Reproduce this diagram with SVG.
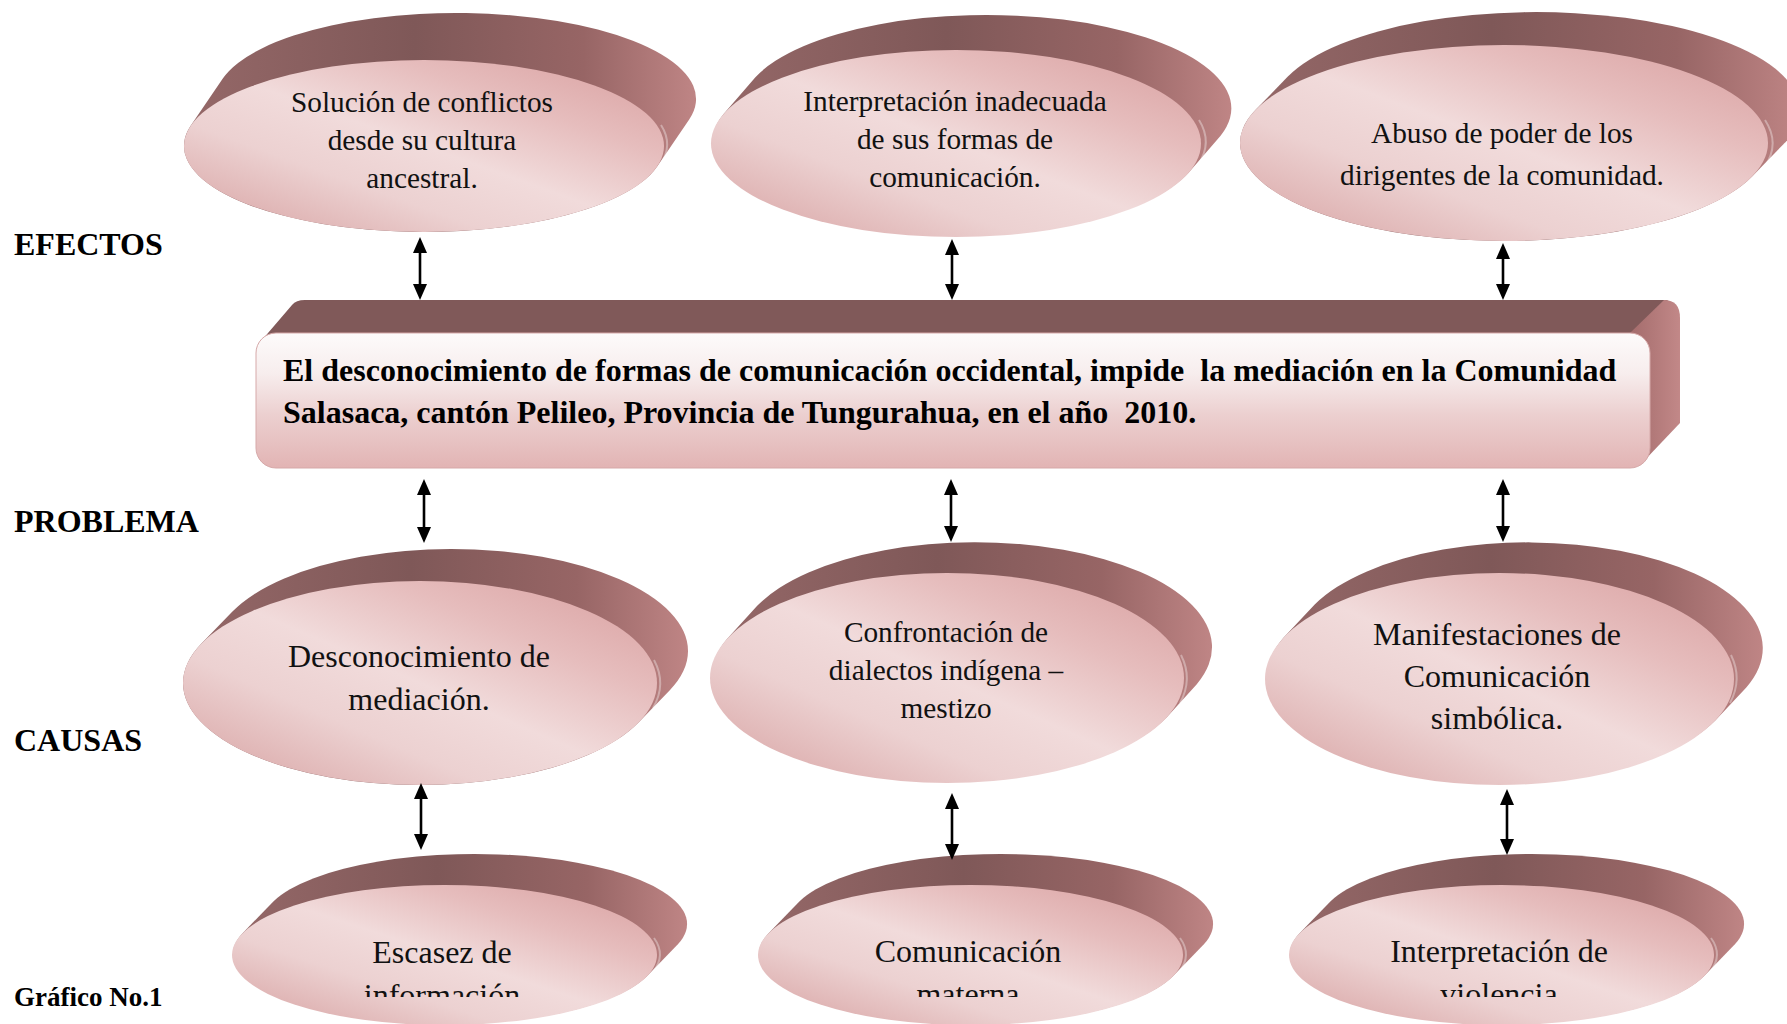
<svg xmlns="http://www.w3.org/2000/svg" width="1787" height="1024" viewBox="0 0 1787 1024">
<defs>
  <linearGradient id="sideG" x1="0" y1="0" x2="1" y2="0">
    <stop offset="0" stop-color="#956868"/>
    <stop offset="0.45" stop-color="#7f5858"/>
    <stop offset="0.78" stop-color="#976565"/>
    <stop offset="1" stop-color="#bf8585"/>
  </linearGradient>
  <linearGradient id="faceG" x1="1" y1="0" x2="0" y2="1">
    <stop offset="0" stop-color="#d89e9e"/>
    <stop offset="0.28" stop-color="#e6bdbd"/>
    <stop offset="0.5" stop-color="#f1dbdb"/>
    <stop offset="0.68" stop-color="#ecd1d1"/>
    <stop offset="1" stop-color="#d69f9f"/>
  </linearGradient>
  <linearGradient id="boxFaceG" x1="0" y1="0" x2="0" y2="1">
    <stop offset="0" stop-color="#fdfbfb"/>
    <stop offset="0.3" stop-color="#f7eded"/>
    <stop offset="0.6" stop-color="#ecd0d0"/>
    <stop offset="1" stop-color="#e2b4b4"/>
  </linearGradient>
  <linearGradient id="boxSideG" x1="0" y1="0" x2="1" y2="0">
    <stop offset="0" stop-color="#a46c6c"/>
    <stop offset="1" stop-color="#c28888"/>
  </linearGradient>
  <marker id="ah" markerUnits="userSpaceOnUse" markerWidth="16" markerHeight="14" viewBox="0 0 16 14" refX="6" refY="7" orient="auto-start-reverse">
    <path d="M0,0 L16,7 L0,14 Z" fill="#000"/>
  </marker>
  <clipPath id="clipBottom">
    <rect x="0" y="0" width="1787" height="997"/>
  </clipPath>
</defs>
<style>
  .side { fill: url(#sideG); }
  .face { fill: url(#faceG); }
  .hl { fill: none; stroke: #ffffff; stroke-opacity: 0.35; stroke-width: 2; }
  .t { font-family: "Liberation Serif", "Times New Roman", serif; fill: #111; text-anchor: middle; }
  .t29 { font-size: 29.3px; }
  .t32 { font-size: 32px; }
  .lbl { font-family: "Liberation Serif", "Times New Roman", serif; font-weight: bold; font-size: 32px; fill: #000; }
  .boxt { font-family: "Liberation Serif", "Times New Roman", serif; font-weight: bold; font-size: 32px; fill: #000; }
  .conn line { stroke: #000; stroke-width: 2.6; marker-start: url(#ah); marker-end: url(#ah); }
</style>
<rect width="1787" height="1024" fill="#ffffff"/>

<!-- Effects row -->
<g id="efecto-1">
  <path class="side" d="M190.8,125.6 L222.8,78.6 A240,86 0 0 1 689.2,119.4 L657.2,166.4 A240,86 0 0 1 190.8,125.6 Z"/>
  <ellipse class="face" cx="424" cy="146" rx="240" ry="86"/>
  <path class="hl" d="M661,125 A240,86 0 0 1 660,165"/>
  <text class="t t29" x="422" y="112">Solución de conflictos</text>
  <text class="t t29" x="422" y="150">desde su cultura</text>
  <text class="t t29" x="422" y="188">ancestral.</text>
</g>
<g id="efecto-2">
  <path class="side" d="M723.4,114.2 L755.4,77.2 A245,93.5 0 0 1 1220.6,135.8 L1188.6,172.8 A245,93.5 0 0 1 723.4,114.2 Z"/>
  <ellipse class="face" cx="956" cy="143.5" rx="245" ry="93.5"/>
  <path class="hl" d="M1199,120 A245,93.5 0 0 1 1198,165"/>
  <text class="t t29" x="955" y="111">Interpretación inadecuada</text>
  <text class="t t29" x="955" y="149">de sus formas de</text>
  <text class="t t29" x="955" y="187">comunicación.</text>
</g>
<g id="efecto-3">
  <path class="side" d="M1255.6,109.8 L1287.6,76.8 A264,98 0 0 1 1784.4,143.2 L1752.4,176.2 A264,98 0 0 1 1255.6,109.8 Z"/>
  <ellipse class="face" cx="1504" cy="143" rx="264" ry="98"/>
  <path class="hl" d="M1765,120 A264,98 0 0 1 1764,168"/>
  <text class="t t29" x="1502" y="143">Abuso de poder de los</text>
  <text class="t t29" x="1502" y="185">dirigentes de la comunidad.</text>
</g>

<!-- Problem box -->
<g id="problema">
  <path fill="#805959" d="M262,340 L292,305 Q296,300 305,300 L1668,300 L1636,333 L276,333 Z"/>
  <path fill="url(#boxSideG)" d="M1630,333 L1664,300 Q1680,300 1680,318 L1680,423 L1642,463 L1630,463 Z"/>
  <rect x="256" y="333" width="1394" height="135" rx="20" ry="20" fill="url(#boxFaceG)" stroke="#d6a9a9" stroke-width="1"/>
  <text class="boxt" x="283" y="381" xml:space="preserve">El desconocimiento de formas de comunicación occidental, impide  la mediación en la Comunidad</text>
  <text class="boxt" x="283" y="423" xml:space="preserve">Salasaca, cantón Pelileo, Provincia de Tungurahua, en el año  2010.</text>
</g>

<!-- Causes row -->
<g id="causa-1">
  <path class="side" d="M201.2,643.8 L232.2,611.8 A237,102 0 0 1 669.8,690.2 L638.8,722.2 A237,102 0 0 1 201.2,643.8 Z"/>
  <ellipse class="face" cx="420" cy="683" rx="237" ry="102"/>
  <path class="hl" d="M654,660 A237,102 0 0 1 653,708"/>
  <text class="t t32" x="419" y="667">Desconocimiento de</text>
  <text class="t t32" x="419" y="710">mediación.</text>
</g>
<g id="causa-2">
  <path class="side" d="M727.2,638.8 L757.2,605.8 A237,105 0 0 1 1196.8,684.2 L1166.8,717.2 A237,105 0 0 1 727.2,638.8 Z"/>
  <ellipse class="face" cx="947" cy="678" rx="237" ry="105"/>
  <path class="hl" d="M1181,655 A237,105 0 0 1 1180,703"/>
  <text class="t t29" x="946" y="642">Confrontación de</text>
  <text class="t t29" x="946" y="680">dialectos indígena –</text>
  <text class="t t29" x="946" y="718">mestizo</text>
</g>
<g id="causa-3">
  <path class="side" d="M1283.7,637.6 L1314.7,604.6 A234.5,106 0 0 1 1746.3,687.4 L1715.3,720.4 A234.5,106 0 0 1 1283.7,637.6 Z"/>
  <ellipse class="face" cx="1499.5" cy="679" rx="234.5" ry="106"/>
  <path class="hl" d="M1731,655 A234.5,106 0 0 1 1730,703"/>
  <text class="t t32" x="1497" y="645">Manifestaciones de</text>
  <text class="t t32" x="1497" y="687">Comunicación</text>
  <text class="t t32" x="1497" y="729">simbólica.</text>
</g>

<!-- Bottom row -->
<g id="subcausa-1">
  <path class="side" d="M242.1,933.7 L273.1,901.7 A212.5,70 0 0 1 677.9,944.3 L646.9,976.3 A212.5,70 0 0 1 242.1,933.7 Z"/>
  <ellipse class="face" cx="444.5" cy="955" rx="212.5" ry="70"/>
  <path class="hl" d="M654,938 A212.5,70 0 0 1 653,972"/>
  <g clip-path="url(#clipBottom)">
    <text class="t t32" x="442" y="963">Escasez de</text>
    <text class="t t32" x="442" y="1006">información</text>
  </g>
</g>
<g id="subcausa-2">
  <path class="side" d="M768.1,933.7 L799.1,901.7 A212.5,70 0 0 1 1203.9,944.3 L1172.9,976.3 A212.5,70 0 0 1 768.1,933.7 Z"/>
  <ellipse class="face" cx="970.5" cy="955" rx="212.5" ry="70"/>
  <path class="hl" d="M1180,938 A212.5,70 0 0 1 1179,972"/>
  <g clip-path="url(#clipBottom)">
    <text class="t t32" x="968" y="962">Comunicación</text>
    <text class="t t32" x="968" y="1005">materna</text>
  </g>
</g>
<g id="subcausa-3">
  <path class="side" d="M1299.1,933.7 L1330.1,901.7 A212.5,70 0 0 1 1734.9,944.3 L1703.9,976.3 A212.5,70 0 0 1 1299.1,933.7 Z"/>
  <ellipse class="face" cx="1501.5" cy="955" rx="212.5" ry="70"/>
  <path class="hl" d="M1711,938 A212.5,70 0 0 1 1710,972"/>
  <g clip-path="url(#clipBottom)">
    <text class="t t32" x="1499" y="962">Interpretación de</text>
    <text class="t t32" x="1499" y="1005">violencia</text>
  </g>
</g>

<!-- Connectors -->
<g id="connectors" class="conn">
  <line x1="420" y1="247" x2="420" y2="290"/>
  <line x1="952" y1="249" x2="952" y2="290"/>
  <line x1="1503" y1="253" x2="1503" y2="290"/>
  <line x1="424" y1="489" x2="424" y2="533"/>
  <line x1="951" y1="489" x2="951" y2="532"/>
  <line x1="1503" y1="489" x2="1503" y2="532"/>
  <line x1="421" y1="793" x2="421" y2="840"/>
  <line x1="952" y1="803" x2="952" y2="850"/>
  <line x1="1507" y1="799" x2="1507" y2="845"/>
</g>

<!-- Side labels -->
<g id="labels">
  <text class="lbl" x="14" y="255">EFECTOS</text>
  <text class="lbl" x="14" y="532">PROBLEMA</text>
  <text class="lbl" x="14" y="751">CAUSAS</text>
  <text class="lbl" x="14" y="1006" style="font-size:27px">Gráfico No.1</text>
</g>
</svg>
